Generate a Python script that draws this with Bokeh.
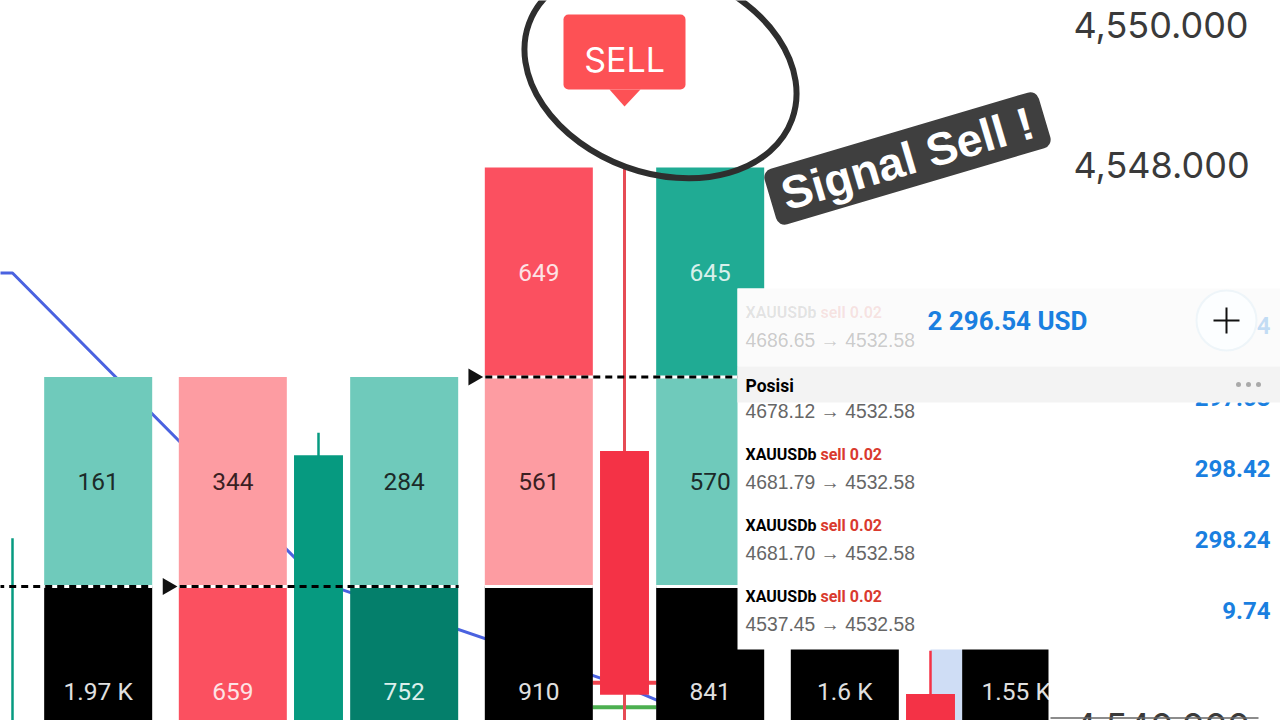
import math
from bokeh.plotting import figure
from bokeh.models import Range1d
from bokeh.core.properties import value
from bokeh.embed import file_html
from bokeh.resources import INLINE

# --- footprint data -------------------------------------------------
bar_time  = [0, 1, 1, 2, 2, 3, 3]
bar_side  = [1, -1, 1, -1, 1, -1, 1]
cells = [
    [(4545, "161", "#6fcabb", "#1c2b29"), (4542, "1.97 K", "#000000", "#e0e0e0")],
    [(4545, "344", "#fd9ca2", "#3a1f22"), (4542, "659", "#fb5060", "#fde3e5")],
    [(4545, "284", "#6fcabb", "#1c2b29"), (4542, "752", "#047f6b", "#dcefeb")],
    [(4548, "649", "#fb5060", "#fde3e5"), (4545, "561", "#fd9ca2", "#3a1f22"), (4542, "910", "#000000", "#e0e0e0")],
    [(4548, "645", "#20ab94", "#d8f0eb"), (4545, "570", "#6fcabb", "#1c2b29"), (4542, "841", "#000000", "#e0e0e0")],
    [(4542, "1.6 K", "#000000", "#e0e0e0")],
    [(4542, "1.55 K", "#000000", "#e0e0e0")],
]
cell_step = 3

candle_time  = [0, 1, 2, 3]
candle_open  = [4538.0, 4538.6, 4543.94, 4540.46]
candle_close = [4538.0, 4543.88, 4540.45, 4538.2]
candle_high  = [4542.69, 4544.2, 4547.98, 4541.08]
candle_low   = [4537.0, 4537.0, 4538.0, 4537.0]
candle_color = ["#069a80", "#069a80", "#f43246", "#f43246"]

vwap_time  = [-1, 0, 1, 2, 3]
vwap_price = [4546.49, 4546.49, 4542.07, 4540.57, 4538.7]

price_ticks = [4550, 4548, 4540]
dash_price = [4542, 4542, 4545]
dash_from  = [-0.05, 0.546, 1.545]
dash_to    = [0.455, 1.458, 2.4]
tri_time  = [0.507, 1.506]
tri_price = [4542, 4545]
level_red, level_green = 4540.62, 4540.27

total_text = "2 296.54 USD"
rows_sym   = ["XAUUSDb", "XAUUSDb", "XAUUSDb", "XAUUSDb"]
rows_side  = ["sell 0.02", "sell 0.02", "sell 0.02", "sell 0.02"]
rows_open  = ["4686.65", "4681.79", "4681.70", "4537.45"]
rows_close = ["4532.58", "4532.58", "4532.58", "4532.58"]
rows_val   = ["", "298.42", "298.24", "9.74"]

# --- pixel helpers --------------------------------------------------
X0, XS = 12.0, 306.0
Y0, YS = 167.0, 69.83
def tx(px): return (px - X0) / XS
def ty(py): return 4548 - (py - Y0) / YS

p = figure(width=1280, height=720, output_backend="svg", toolbar_location=None,
           x_range=Range1d(tx(0), tx(1280)), y_range=Range1d(ty(720), ty(0)),
           x_axis_type=None, y_axis_type=None, min_border=0,
           background_fill_color="white", outline_line_color=None)
p.grid.visible = False

SANS = value("Inter")
NARROW = value("Roboto")
HELV = value("Liberation Sans")

# light band next to the last candle
p.quad(left=[tx(930)], right=[tx(962)], top=[ty(640)], bottom=[ty(730)],
       fill_color="#cfddf5", line_color=None)

# vwap line
p.line(vwap_time, vwap_price, line_color="#4a62e0", line_width=3)

# level stubs
p.segment([tx(592)], [level_red], [tx(656)], [level_red], line_color="#f0454f", line_width=4)
p.segment([tx(592)], [level_green], [tx(656)], [level_green], line_color="#4caf50", line_width=4)

# footprint cells
W = 0.1765
OFF = 0.28
lx, rx, tp, bt, col, tex, tey, tet, tec = [], [], [], [], [], [], [], [], []
for t, s, col_cells in zip(bar_time, bar_side, cells):
    c = t + s * OFF
    for top, label, fill, tc in col_cells:
        lx.append(c - W); rx.append(c + W)
        tp.append(top); bt.append(top - cell_step); col.append(fill)
        tex.append(c); tey.append(top - cell_step / 2); tet.append(label); tec.append(tc)
p.quad(left=lx, right=rx, top=tp, bottom=bt, fill_color=col, line_color=None)
# white separators inside columns
p.segment(lx, bt, rx, bt, line_color="white", line_width=3)

# candles
for t, o, c, h, l, cc in zip(candle_time, candle_open, candle_close, candle_high, candle_low, candle_color):
    p.segment([t], [h], [t], [l], line_color=cc if t != 2 else "#e64b55", line_width=2.5 if t != 2 else 3)
    if t != 0:
        p.vbar(x=[t], width=0.16, top=[max(o, c)], bottom=[min(o, c)], fill_color=cc, line_color=None)

# footprint numbers
p.text(tex, tey, text=tet, text_color=tec, text_font=NARROW, text_font_size="24.5px",
       text_align="center", text_baseline="middle")

# dashed levels
p.segment(dash_from, dash_price, dash_to, dash_price, line_color="#000000", line_width=3, line_dash="7 5")
p.scatter(tri_time, tri_price, marker="triangle", size=17, angle=-math.pi / 2,
          fill_color="#111111", line_color=None)

# white cover right of the chart
p.quad(left=[tx(1048)], right=[tx(1290)], top=[ty(280)], bottom=[ty(730)], fill_color="white", line_color=None)

# price labels
p.text([tx(1073)] * 3, [t + d for t, d in zip(price_ticks, (0.035, 0.03, 0.0))],
       text=[f"{t:,.3f}" for t in price_ticks], text_color="#3a3a3a",
       text_font=SANS, text_font_size="36px", text_align="left", text_baseline="middle")
p.segment([tx(1050)], [ty(717.5)], [tx(1258)], [ty(717.5)], line_color="#666666", line_width=1.5)

# SELL marker
p.quad(left=[tx(563)], right=[tx(685)], top=[ty(14)], bottom=[ty(89)], fill_color="#fd5155",
       line_color=None, border_radius=5)
p.patch([tx(609), tx(640), tx(624)], [ty(89), ty(89), ty(106)], fill_color="#fd5155", line_color=None)
p.text([tx(624)], [ty(59)], text=["SELL"], text_color="white", text_font=SANS, text_font_size="34px",
       text_align="center", text_baseline="middle")

# hand-drawn circle
p.ellipse([tx(660)], [ty(71)], width=[280], height=[203], width_units="screen", height_units="screen",
          angle=-0.35, fill_color=None, line_color="#2e2e2e", line_width=6)

# sticker
p.rect([tx(907)], [ty(158)], width=[286], height=[58], width_units="screen", height_units="screen",
       angle=math.radians(16.5), fill_color="#3f3f3f", line_color=None, border_radius=9)
p.text([tx(907)], [ty(158)], text=["Signal Sell !"], angle=math.radians(16.5), text_color="white",
       text_font=HELV, text_font_style="bold", text_font_size="46px",
       text_align="center", text_baseline="middle")

# positions panel
p.quad(left=[tx(737)], right=[tx(1290)], top=[ty(288)], bottom=[ty(649)], fill_color="white", line_color=None)
p.quad(left=[tx(737)], right=[tx(1290)], top=[ty(288)], bottom=[ty(366)], fill_color="#fbfbfb", line_color=None)

row_y = [312, 454, 525, 596]
SYM_SIZE, VAL_SIZE, SUB_SIZE = "16px", "24px", "19.3px"
# top faded row
p.text([tx(745)], [ty(312)], text=[rows_sym[0]], text_color="#000000", text_alpha=0.1, text_font=NARROW,
       text_font_style="bold", text_font_size=SYM_SIZE, text_baseline="middle")
p.text([tx(820)], [ty(312)], text=[rows_side[0]], text_color="#d93a2e", text_alpha=0.12, text_font=NARROW,
       text_font_style="bold", text_font_size=SYM_SIZE, text_baseline="middle")
p.text([tx(745)], [ty(340)], text=[f"{rows_open[0]} → {rows_close[0]}"], text_color="#555555", text_alpha=0.3,
       text_font=HELV, text_font_size=SUB_SIZE, text_baseline="middle")
p.text([tx(1270)], [ty(325)], text=["4"], text_color="#1a7fe0", text_alpha=0.25, text_font=NARROW,
       text_font_style="bold", text_font_size=VAL_SIZE, text_align="right", text_baseline="middle")
p.text([tx(745)], [ty(411)], text=["4678.12 → 4532.58"], text_color="#666666",
       text_font=HELV, text_font_size=SUB_SIZE, text_baseline="middle")
p.text([tx(1270)], [ty(397)], text=["297.03"], text_color="#1a7fe0", text_font=NARROW,
       text_font_style="bold", text_font_size=VAL_SIZE, text_align="right", text_baseline="middle")

p.quad(left=[tx(737)], right=[tx(1290)], top=[ty(366)], bottom=[ty(402)], fill_color="#f3f3f3", line_color=None)
p.text([tx(745)], [ty(385)], text=["Posisi"], text_color="#000000", text_font=NARROW, text_font_style="bold",
       text_font_size="17.5px", text_baseline="middle")
p.scatter([tx(1238), tx(1248), tx(1258)], [ty(384)] * 3, size=5, fill_color="#a9a9a9", line_color=None)

p.text([tx(1007)], [ty(320)], text=[total_text], text_color="#1a7fe0", text_font=NARROW, text_font_style="bold",
       text_font_size="26px", text_align="center", text_baseline="middle")

p.circle([tx(1226)], [ty(320)], radius=[30], radius_units="screen", fill_color="#fcfeff",
         line_color="#eef5f9", line_width=2)
p.scatter([tx(1226)], [ty(320)], marker="cross", size=26, line_color="#111111", line_width=2)

for i in range(1, 4):
    y = row_y[i]
    p.text([tx(745)], [ty(y)], text=[rows_sym[i]], text_color="#000000", text_font=NARROW, text_font_style="bold",
           text_font_size=SYM_SIZE, text_baseline="middle")
    p.text([tx(820)], [ty(y)], text=[rows_side[i]], text_color="#d93a2e", text_font=NARROW, text_font_style="bold",
           text_font_size=SYM_SIZE, text_baseline="middle")
    p.text([tx(745)], [ty(y + 28)], text=[f"{rows_open[i]} → {rows_close[i]}"], text_color="#666666",
           text_font=HELV, text_font_size=SUB_SIZE, text_baseline="middle")
    p.text([tx(1270)], [ty(y + 14)], text=[rows_val[i]], text_color="#1a7fe0", text_font=NARROW,
           text_font_style="bold", text_font_size=VAL_SIZE, text_align="right", text_baseline="middle")

open("out.html", "w").write(file_html(p, INLINE))
